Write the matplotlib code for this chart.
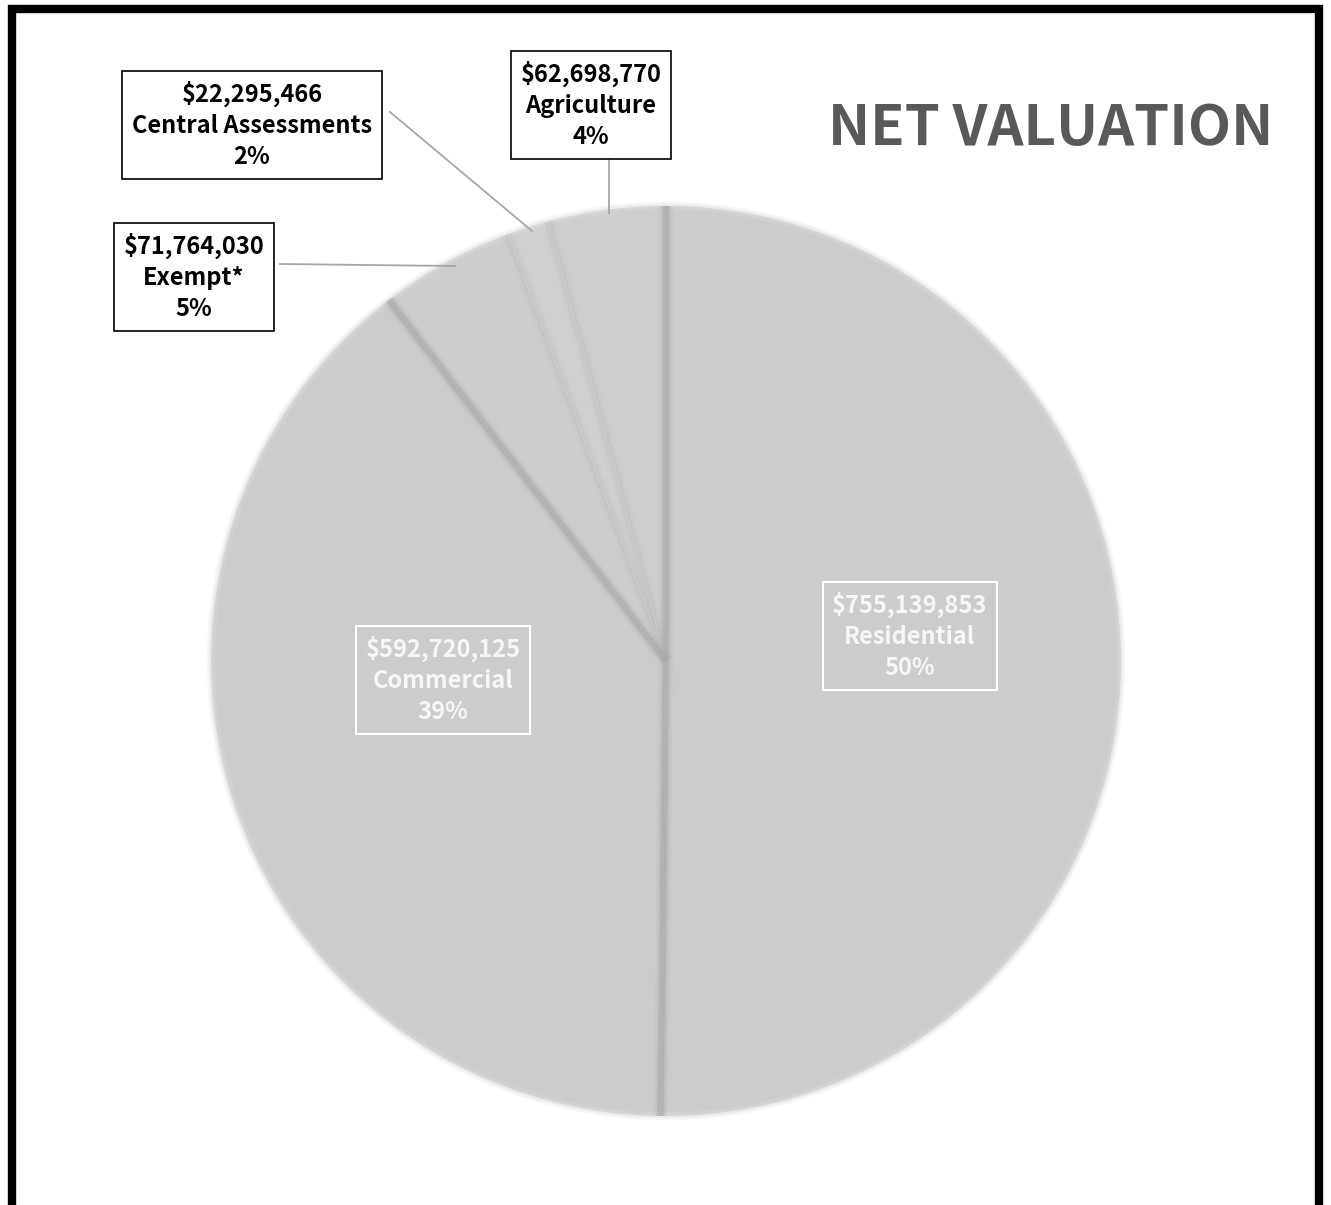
import matplotlib.pyplot as plt
import numpy as np
from matplotlib.patches import Rectangle, Circle

# data
categories = ['Residential', 'Commercial', 'Exempt*', 'Central Assessments', 'Agriculture']
values = [755139853, 592720125, 71764030, 22295466, 62698770]
percents = ['50%', '39%', '5%', '2%', '4%']
slice_colors = ['#cccccc', '#cccccc', '#cdcdcd', '#d0d0d0', '#cecece']

W, H = 1331, 1205
fig = plt.figure(figsize=(W / 100, H / 100), dpi=100)
ax = fig.add_axes([0, 0, 1, 1])

cx, cy, r = 666, H - 661, 455
wedges, _ = ax.pie(values, colors=slice_colors, startangle=90, counterclock=False,
                   center=(cx, cy), radius=r, frame=True,
                   wedgeprops=dict(linewidth=0))
ax.set_xlim(0, W)
ax.set_ylim(0, H)
ax.set_aspect('equal')
ax.axis('off')

# soft outer edge
for lw, a in [(6, 0.25), (3, 0.4)]:
    ax.add_patch(Circle((cx, cy), r, fill=False, ec='#dcdcdc', lw=lw, alpha=a, zorder=2))

# separators between slices (soft darker seams); theta1 is the end edge when clockwise
seam_alpha = [1.0, 1.0, 0.2, 0.2, 1.0]
for w, a in zip(wedges, seam_alpha):
    th = np.deg2rad(w.theta1)
    for lw, aa in [(10, 0.15), (6.5, 0.3), (4, 0.5)]:
        ax.plot([cx, cx + r * np.cos(th)], [cy, cy + r * np.sin(th)],
                color='#a8a8a8', lw=lw, alpha=aa * a, solid_capstyle='butt', zorder=3)

font = 'Noto Sans CJK SC'
money = ['${:,}'.format(v) for v in values]

# inner labels (white boxes)
inner_pos = {0: (910, 636), 1: (443, 680)}
for i, (x, y) in inner_pos.items():
    ax.text(x, H - y, f'{money[i]}\n{categories[i]}\n{percents[i]}', ha='center', va='center',
            fontsize=17, fontweight='bold', family=font, color='#f6f6f6', linespacing=1.38,
            zorder=5,
            bbox=dict(boxstyle='square,pad=0.4', fc='none', ec='white', lw=1.5))

# outer labels with leader lines
outer_pos = {2: (194, 277), 3: (252, 125), 4: (591, 105)}
leader = {2: ((280, 264), (455, 266)), 3: ((390, 112), (532, 231)), 4: ((609, 160), (609, 213))}
for i, (x, y) in outer_pos.items():
    (x0, y0), (x1, y1) = leader[i]
    ax.plot([x0, x1], [H - y0, H - y1], color='#a6a6a6', lw=1.3, zorder=2)
    ax.text(x, H - y, f'{money[i]}\n{categories[i]}\n{percents[i]}', ha='center', va='center',
            fontsize=17, fontweight='bold', family=font, color='black', linespacing=1.38,
            zorder=5,
            bbox=dict(boxstyle='square,pad=0.4', fc='white', ec='black', lw=1.2))

ax.text(1273, H - 128, 'NET VALUATION', ha='right', va='center', fontsize=40.5,
        fontweight='bold', family=font, color='#595959')

# outer frame
ax.add_patch(Rectangle((12, -60), W - 24, H - 9 + 60, fill=False, ec='black', lw=6, zorder=6,
                       clip_on=False))

fig.savefig('out.png', dpi=100)
